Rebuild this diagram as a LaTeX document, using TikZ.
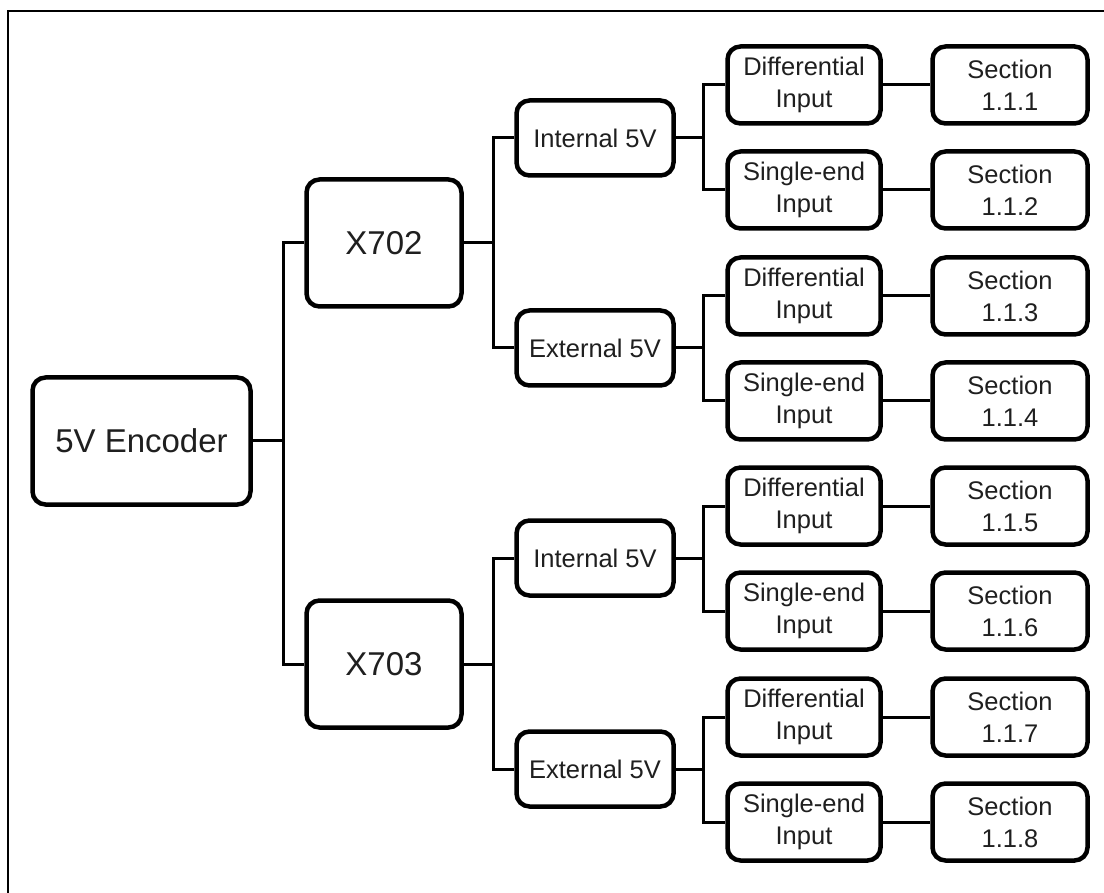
\documentclass[tikz,border=0pt]{standalone}
\usepackage{fontspec}
\setmainfont{Liberation Sans}
\begin{document}
\begin{tikzpicture}[x=1pt,y=-1pt,
  box/.style={draw=black, line width=4.5pt, rounded corners=13pt, fill=white,
    inner sep=0pt, align=center, text=black!88},
  bigbox/.style={box, font=\fontsize{33}{38}\selectfont},
  smallbox/.style={box, font=\fontsize{25.5}{32}\selectfont},
  lvlone/.style={bigbox, minimum width=218pt, minimum height=127pt},
  lvltwo/.style={bigbox, minimum width=155pt, minimum height=127pt},
  lvlthree/.style={smallbox, minimum width=157pt, minimum height=75pt},
  lvlfour/.style={smallbox, minimum width=153pt, minimum height=77pt},
  secbox/.style={smallbox, minimum width=155pt, minimum height=77pt},
  link/.style={draw=black, line width=3pt}
]
\useasboundingbox (0,0) rectangle (1104,893);
\fill[white] (0,0) rectangle (1104,893);
\draw[line width=2.5pt] (8,893) -- (8,11) -- (1104,11);

% level 1
\node[lvlone] (enc) at (141.5,441) {5V Encoder};
% level 2
\node[lvltwo] (xa) at (384,243) {X702};
\node[lvltwo] (xb) at (384,664) {X703};
% level 3
\node[lvlthree] (ia) at (595,138) {Internal 5V};
\node[lvlthree] (ea) at (595,348) {External 5V};
\node[lvlthree] (ib) at (595,558) {Internal 5V};
\node[lvlthree] (eb) at (595,769) {External 5V};
% level 4
\node[lvlfour] (d1) at (804,85)  {Differential\\Input};
\node[lvlfour] (s1) at (804,190) {Single-end\\Input};
\node[lvlfour] (d2) at (804,296) {Differential\\Input};
\node[lvlfour] (s2) at (804,401) {Single-end\\Input};
\node[lvlfour] (d3) at (804,506) {Differential\\Input};
\node[lvlfour] (s3) at (804,611) {Single-end\\Input};
\node[lvlfour] (d4) at (804,717) {Differential\\Input};
\node[lvlfour] (s4) at (804,822) {Single-end\\Input};
% sections
\node[secbox] (c1) at (1010,85)  {Section\\1.1.1};
\node[secbox] (c2) at (1010,190) {Section\\1.1.2};
\node[secbox] (c3) at (1010,296) {Section\\1.1.3};
\node[secbox] (c4) at (1010,401) {Section\\1.1.4};
\node[secbox] (c5) at (1010,506) {Section\\1.1.5};
\node[secbox] (c6) at (1010,611) {Section\\1.1.6};
\node[secbox] (c7) at (1010,717) {Section\\1.1.7};
\node[secbox] (c8) at (1010,822) {Section\\1.1.8};

% junctions
\coordinate (j1) at (283,441);
\coordinate (ja) at (493,243);
\coordinate (jb) at (493,664);
\coordinate (k1) at (703,138);
\coordinate (k2) at (703,348);
\coordinate (k3) at (703,558);
\coordinate (k4) at (703,769);

\draw[link] (enc.east) -- (j1);
\draw[link] (xa.west) -| (j1);
\draw[link] (xb.west) -| (j1);

\draw[link] (xa.east) -- (ja);
\draw[link] (ia.west) -| (ja);
\draw[link] (ea.west) -| (ja);
\draw[link] (xb.east) -- (jb);
\draw[link] (ib.west) -| (jb);
\draw[link] (eb.west) -| (jb);

\draw[link] (ia.east) -- (k1);
\draw[link] (d1.west) -| (k1);
\draw[link] (s1.west) -| (k1);
\draw[link] (ea.east) -- (k2);
\draw[link] (d2.west) -| (k2);
\draw[link] (s2.west) -| (k2);
\draw[link] (ib.east) -- (k3);
\draw[link] (d3.west) -| (k3);
\draw[link] (s3.west) -| (k3);
\draw[link] (eb.east) -- (k4);
\draw[link] (d4.west) -| (k4);
\draw[link] (s4.west) -| (k4);

\draw[link] (d1) -- (c1);
\draw[link] (s1) -- (c2);
\draw[link] (d2) -- (c3);
\draw[link] (s2) -- (c4);
\draw[link] (d3) -- (c5);
\draw[link] (s3) -- (c6);
\draw[link] (d4) -- (c7);
\draw[link] (s4) -- (c8);
\end{tikzpicture}
\end{document}
